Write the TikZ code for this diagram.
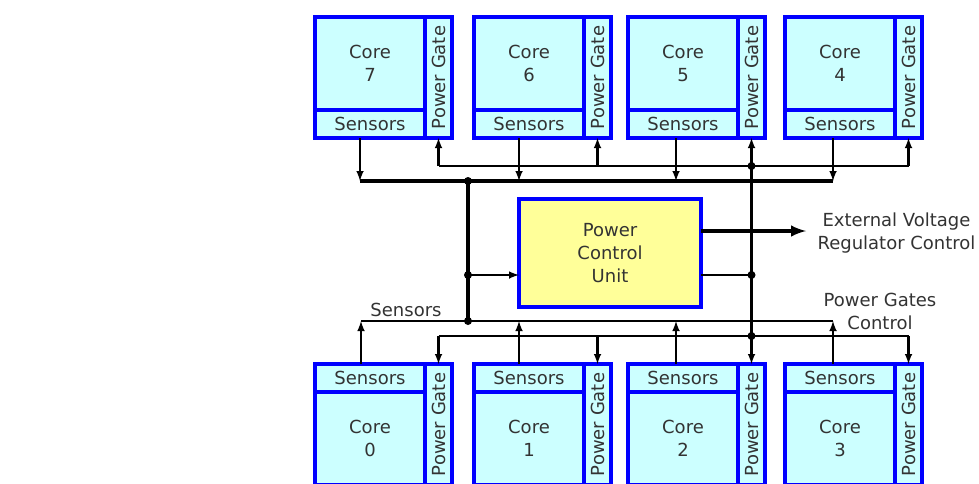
\documentclass[tikz,border=0pt]{standalone}
\usepackage{fontspec}
\setmainfont{DejaVu Sans}
\usetikzlibrary{positioning}
\definecolor{cellfill}{HTML}{CCFFFF}
\definecolor{pcufill}{HTML}{FFFF99}
\definecolor{txt}{HTML}{333333}

\begin{document}
\begin{tikzpicture}[x=1pt, y=-1pt,
    node distance=0pt,
    every node/.style={font=\fontsize{18}{23}\selectfont, text=txt},
    cell/.style={rectangle, draw=blue, line width=4pt, fill=cellfill, inner sep=0pt, outer sep=0pt, align=center},
    core/.style={cell, minimum width=110pt, minimum height=93pt},
    sens/.style={cell, minimum width=110pt, minimum height=28pt},
    gate/.style={cell, minimum width=27pt, minimum height=121pt},
    pcu/.style={rectangle, draw=blue, line width=4pt, fill=pcufill, outer sep=0pt, align=center, minimum width=182pt, minimum height=108pt},
    dot/.style={circle, fill=black, inner sep=0pt, minimum size=8pt},
    wire/.style={line width=2.4pt},
    bus/.style={line width=3.8pt},
    arrow/.style={wire,->,>=latex}]
    \useasboundingbox (0,0) rectangle (979,483);
    % upper cores
    \node[core, anchor=north west] (c7) at (315,17) {Core\\7};
    \node[sens, below=of c7] (s7) {Sensors};
    \node[gate, anchor=north west] (g7) at (c7.north east) {\rotatebox{90}{Power Gate}};
    \node[core, anchor=north west] (c6) at (474,17) {Core\\6};
    \node[sens, below=of c6] (s6) {Sensors};
    \node[gate, anchor=north west] (g6) at (c6.north east) {\rotatebox{90}{Power Gate}};
    \node[core, anchor=north west] (c5) at (628,17) {Core\\5};
    \node[sens, below=of c5] (s5) {Sensors};
    \node[gate, anchor=north west] (g5) at (c5.north east) {\rotatebox{90}{Power Gate}};
    \node[core, anchor=north west] (c4) at (785,17) {Core\\4};
    \node[sens, below=of c4] (s4) {Sensors};
    \node[gate, anchor=north west] (g4) at (c4.north east) {\rotatebox{90}{Power Gate}};
    % lower cores
    \node[sens, anchor=north west] (s0) at (315,364) {Sensors};
    \node[core, below=of s0] (c0) {Core\\0};
    \node[gate, anchor=north west] (g0) at (s0.north east) {\rotatebox{90}{Power Gate}};
    \node[sens, anchor=north west] (s1) at (474,364) {Sensors};
    \node[core, below=of s1] (c1) {Core\\1};
    \node[gate, anchor=north west] (g1) at (s1.north east) {\rotatebox{90}{Power Gate}};
    \node[sens, anchor=north west] (s2) at (628,364) {Sensors};
    \node[core, below=of s2] (c2) {Core\\2};
    \node[gate, anchor=north west] (g2) at (s2.north east) {\rotatebox{90}{Power Gate}};
    \node[sens, anchor=north west] (s3) at (785,364) {Sensors};
    \node[core, below=of s3] (c3) {Core\\3};
    \node[gate, anchor=north west] (g3) at (s3.north east) {\rotatebox{90}{Power Gate}};
    % control unit and junctions
    \node[pcu] (pcu) at (610,253) {Power\\Control\\Unit};
    \node[dot] (ds1) at (468,181) {};
    \node[dot] (ds2) at (468,275) {};
    \node[dot] (ds3) at (468,321) {};
    \node[dot] (dg1) at (g5 |- 0,166) {};
    \node[dot] (dg2) at (g5 |- 0,275) {};
    \node[dot] (dg3) at (g5 |- 0,336) {};
    \coordinate (a7) at ([xshift=-10pt]s7.south); \coordinate (a6) at ([xshift=-10pt]s6.south);
    \coordinate (a5) at ([xshift=-7pt]s5.south); \coordinate (a4) at ([xshift=-7pt]s4.south);
    \coordinate (b0) at ([xshift=-9pt]s0.north); \coordinate (b1) at ([xshift=-10pt]s1.north);
    \coordinate (b2) at ([xshift=-7pt]s2.north); \coordinate (b3) at ([xshift=-7pt]s3.north);
    % upper buses
    \draw[bus] (a7 |- ds1) -- (a4 |- ds1);
    \draw[wire] (g7 |- dg1) -- (g4 |- dg1);
    \draw[arrow] (a7) -- (a7 |- ds1); \draw[arrow] (a6) -- (a6 |- ds1); \draw[arrow] (a5) -- (a5 |- ds1); \draw[arrow] (a4) -- (a4 |- ds1);
    \draw[arrow] (g7 |- dg1) -- (g7.south); \draw[arrow] (g6 |- dg1) -- (g6.south); \draw[arrow] (dg1.center) -- (g5.south); \draw[arrow] (g4 |- dg1) -- (g4.south);
    % links to the control unit
    \draw[bus] (ds1.center) -- (ds3.center);
    \draw[arrow] (ds2.center) -- (ds2 -| pcu.west);
    \draw[wire] (dg2 -| pcu.east) -- (dg2.center);
    \draw[wire] (dg1.center) -- (dg3.center); \draw[arrow] (dg3.center) -- (g2.north);
    \coordinate (vr) at (806,231);
    \draw[line width=4pt, ->, >=latex] (vr -| pcu.east) -- (vr);
    \node[anchor=west, align=center] (ev) at (814,233) {External Voltage\\Regulator Control};
    % lower buses
    \draw[line width=2pt] (b0 |- ds3) -- (b3 |- ds3);
    \draw[wire] (g0 |- dg3) -- (g3 |- dg3);
    \draw[arrow] (b0) -- (b0 |- ds3); \draw[arrow] (b1) -- (b1 |- ds3); \draw[arrow] (b2) -- (b2 |- ds3); \draw[arrow] (b3) -- (b3 |- ds3);
    \draw[arrow] (g0 |- dg3) -- (g0.north); \draw[arrow] (g1 |- dg3) -- (g1.north); \draw[arrow] (g3 |- dg3) -- (g3.north);
    \node (ls) at (406,310) {Sensors};
    \node[align=center] (lp) at (880,311) {Power Gates\\Control};
\end{tikzpicture}
\end{document}
